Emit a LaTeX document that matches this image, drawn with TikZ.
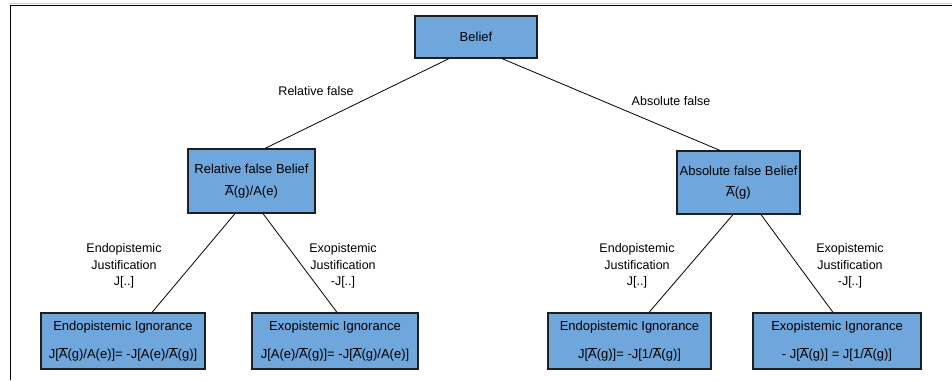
\documentclass[tikz,border=0pt]{standalone}
\usepackage{fontspec}
\setmainfont{Liberation Sans}
\usetikzlibrary{calc}
% A with a bar over it
\newcommand{\Abar}{\ensuremath{\overline{\mbox{A}}}}
\definecolor{boxblue}{HTML}{6FA7DC}
\definecolor{boxline}{HTML}{1F1F1F}
\tikzset{
  conceptbox/.style={draw=boxline, fill=boxblue, line width=1.2pt, align=center,
    font=\fontsize{13}{15.6}\selectfont, inner sep=0pt},
  edgelabel/.style={align=center, font=\fontsize{12.5}{16.5}\selectfont, inner sep=0pt},
  link/.style={draw=black, line width=0.8pt}
}
\begin{document}
\begin{tikzpicture}[x=1pt, y=-1pt]
\useasboundingbox (0,0) rectangle (952,380);
% frame lines along top and left
\draw[gray!40, line width=1pt] (10,3.8) -- (952,3.8);
\draw[black, line width=1.6pt] (10,5.5) -- (952,5.5);
\draw[black, line width=1.2pt] (10.5,5.5) -- (10.5,380);

% boxes
\node[conceptbox, minimum width=122pt, minimum height=42pt] (belief) at (476,37) {Belief};
\node[conceptbox, minimum width=127pt, minimum height=64pt] (relb) at (251.5,181)
  {Relative false Belief\\[6pt]\Abar(g)/A(e)};
\node[conceptbox, minimum width=123pt, minimum height=63pt] (absb) at (738.5,182.5)
  {Absolute false Belief\\[6pt]\Abar(g)};
\node[conceptbox, minimum width=164pt, minimum height=56pt] (endoL) at (123,341)
  {Endopistemic Ignorance\\[12pt]J[\Abar(g)/A(e)]= -J[A(e)/\Abar(g)]};
\node[conceptbox, minimum width=166pt, minimum height=56pt] (exoL) at (335,341)
  {Exopistemic Ignorance\\[12pt]J[A(e)/\Abar(g)]= -J[\Abar(g)/A(e)]};
\node[conceptbox, minimum width=163pt, minimum height=56pt] (endoR) at (629.5,341)
  {Endopistemic Ignorance\\[12pt]J[\Abar(g)]= -J[1/\Abar(g)]};
\node[conceptbox, minimum width=168pt, minimum height=56pt] (exoR) at (837,341)
  {Exopistemic Ignorance\\[12pt]- J[\Abar(g)] = J[1/\Abar(g)]};

% connectors
\draw[link] ([xshift=-27pt]belief.south) -- ([xshift=13.5pt]relb.north);
\draw[link] ([xshift=26pt]belief.south) -- ([xshift=-18.5pt]absb.north);
\draw[link] ([xshift=-16.5pt]relb.south) -- ([xshift=29pt]endoL.north);
\draw[link] ([xshift=11.5pt]relb.south) -- ([xshift=2pt]exoL.north);
\draw[link] ([xshift=-5.5pt]absb.south) -- ([xshift=19.5pt]endoR.north);
\draw[link] ([xshift=22.5pt]absb.south) -- ([xshift=-4pt]exoR.north);

% connector labels
\node[edgelabel] (lrel) at (316,91) {Relative false};
\node[edgelabel] (labs) at (671,101) {Absolute false};
\node[edgelabel] (lendoL) at (124,266) {Endopistemic\\Justification\\J[..]};
\node[edgelabel] (lexoL) at (343,266) {Exopistemic\\Justification\\-J[..]};
\node[edgelabel] (lendoR) at (637,266) {Endopistemic\\Justification\\J[..]};
\node[edgelabel] (lexoR) at (850,266) {Exopistemic\\Justification\\-J[..]};
\end{tikzpicture}
\end{document}
